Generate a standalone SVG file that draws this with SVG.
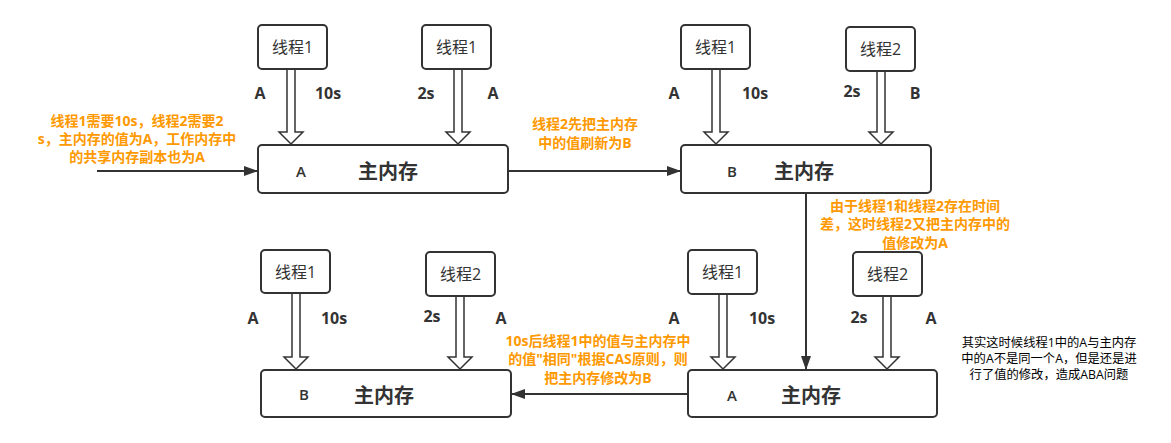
<svg xmlns="http://www.w3.org/2000/svg" width="1171" height="443" viewBox="0 0 1171 443">
<style>
.box{fill:#fff;stroke:#333;stroke-width:2}
.ha{fill:#fff;stroke:#333;stroke-width:1.5;stroke-linejoin:miter}
.t{font-family:"Open Sans","Noto Sans CJK SC",sans-serif;fill:#333;text-anchor:middle;dominant-baseline:central}
.th{font-size:16px}
.mm{font-size:20px;font-weight:bold}
.in{font-size:15px;font-weight:600}
.lb{font-size:16px;font-weight:bold}
.or{font-family:"Open Sans","Noto Sans CJK SC",sans-serif;fill:#FF9900;font-size:14px;font-weight:bold;text-anchor:middle;dominant-baseline:central}
.bk{font-family:"Open Sans","Noto Sans CJK SC",sans-serif;fill:#000;font-size:12.3px;text-anchor:middle;dominant-baseline:central}
.ln{fill:none;stroke:#333;stroke-width:2;marker-end:url(#ah)}
</style>
<defs>
<marker id="ah" viewBox="0 0 14 10" refX="13" refY="5" markerWidth="14" markerHeight="10" markerUnits="userSpaceOnUse" orient="auto"><path d="M0,0 L14,5 L0,10 Z" fill="#333"/></marker>
</defs>
<rect width="1171" height="443" fill="#fff"/>

<g id="connectors">
<line class="ln" x1="97" y1="171" x2="257" y2="171"/>
<line class="ln" x1="508" y1="171" x2="680" y2="171"/>
<line class="ln" x1="806" y1="193" x2="806" y2="369"/>
<line class="ln" x1="688" y1="394" x2="512" y2="394"/>
<polygon class="ha" points="287,69 295,69 295,132 303,132 291,144 279,132 287,132"/>
<polygon class="ha" points="454,69 462,69 462,132 470,132 458,144 446,132 454,132"/>
<polygon class="ha" points="712,69 720,69 720,132 728,132 716,144 704,132 712,132"/>
<polygon class="ha" points="877,71 885,71 885,132 893,132 881,144 869,132 877,132"/>
<polygon class="ha" points="292,293 300,293 300,357 308,357 296,369 284,357 292,357"/>
<polygon class="ha" points="456,296 464,296 464,357 472,357 460,369 448,357 456,357"/>
<polygon class="ha" points="719,294 727,294 727,357 735,357 723,369 711,357 719,357"/>
<polygon class="ha" points="883,296 891,296 891,357 899,357 887,369 875,357 883,357"/>
</g>

<g id="mem-tl"><rect class="box" x="258" y="145" width="250" height="48" rx="4"/><text class="t in" x="301" y="171">A</text><text class="t mm" x="388" y="171">主内存</text></g>
<g id="mem-tr"><rect class="box" x="681" y="145" width="250" height="48" rx="4"/><text class="t in" x="732" y="171">B</text><text class="t mm" x="804" y="171">主内存</text></g>
<g id="mem-bl"><rect class="box" x="261" y="370" width="250" height="47" rx="4"/><text class="t in" x="304" y="394">B</text><text class="t mm" x="384" y="395">主内存</text></g>
<g id="mem-br"><rect class="box" x="688" y="370" width="249" height="47" rx="4"/><text class="t in" x="732" y="395">A</text><text class="t mm" x="811" y="395">主内存</text></g>

<g id="th-tl1"><rect class="box" x="258" y="25" width="69" height="44" rx="4"/><text class="t th" x="292.5" y="47">线程1</text></g>
<g id="th-tl2"><rect class="box" x="422" y="25" width="69" height="44" rx="4"/><text class="t th" x="456.5" y="47">线程1</text></g>
<g id="th-tr1"><rect class="box" x="681" y="25" width="69" height="44" rx="4"/><text class="t th" x="715.5" y="47">线程1</text></g>
<g id="th-tr2"><rect class="box" x="846" y="27" width="69" height="44" rx="4"/><text class="t th" x="880.5" y="49">线程2</text></g>
<g id="th-bl1"><rect class="box" x="261" y="250" width="69" height="43" rx="4"/><text class="t th" x="295.5" y="272">线程1</text></g>
<g id="th-bl2"><rect class="box" x="426" y="252" width="69" height="44" rx="4"/><text class="t th" x="460.5" y="274">线程2</text></g>
<g id="th-br1"><rect class="box" x="688" y="250" width="69" height="44" rx="4"/><text class="t th" x="722.5" y="272">线程1</text></g>
<g id="th-br2"><rect class="box" x="853" y="252" width="69" height="44" rx="4"/><text class="t th" x="887.5" y="274">线程2</text></g>

<g id="labels">
<text class="t lb" x="260" y="93">A</text><text class="t lb" x="328" y="93">10s</text><text class="t lb" x="426" y="93">2s</text><text class="t lb" x="493" y="93">A</text>
<text class="t lb" x="674" y="93">A</text><text class="t lb" x="755" y="93">10s</text><text class="t lb" x="852" y="91">2s</text><text class="t lb" x="915" y="93">B</text>
<text class="t lb" x="253" y="318">A</text><text class="t lb" x="334" y="318">10s</text><text class="t lb" x="432" y="316">2s</text><text class="t lb" x="501" y="318">A</text>
<text class="t lb" x="674" y="318">A</text><text class="t lb" x="762" y="318">10s</text><text class="t lb" x="859" y="317">2s</text><text class="t lb" x="931" y="318">A</text>
</g>

<g id="notes">
<text class="or" x="137" y="120">线程1需要10s，线程2需要2</text>
<text class="or" x="137" y="138">s，主内存的值为A，工作内存中</text>
<text class="or" x="137" y="156">的共享内存副本也为A</text>
<text class="or" x="585" y="123">线程2先把主内存</text>
<text class="or" x="585" y="142">中的值刷新为B</text>
<text class="or" x="915" y="205">由于线程1和线程2存在时间</text>
<text class="or" x="915" y="223">差，这时线程2又把主内存中的</text>
<text class="or" x="915" y="242">值修改为A</text>
<text class="or" x="598" y="340">10s后线程1中的值与主内存中</text>
<text class="or" x="598" y="358">的值"相同"根据CAS原则，则</text>
<text class="or" x="598" y="377">把主内存修改为B</text>
<text class="bk" x="1049" y="342">其实这时候线程1中的A与主内存</text>
<text class="bk" x="1049" y="358">中的A不是同一个A，但是还是进</text>
<text class="bk" x="1049" y="374">行了值的修改，造成ABA问题</text>
</g>
</svg>
